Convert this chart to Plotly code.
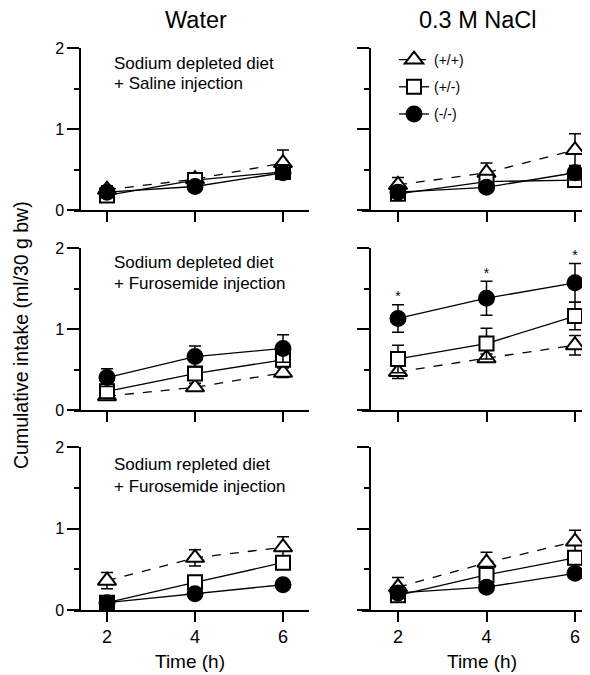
import plotly.graph_objects as go

time = [2, 4, 6]
genotypes = ["(+/+)", "(+/-)", "(-/-)"]
col_titles = ["Water", "0.3 M NaCl"]
row_labels = [
    ["Sodium depleted diet", "+ Saline injection"],
    ["Sodium depleted diet", "+ Furosemide injection"],
    ["Sodium repleted diet", "+ Furosemide injection"],
]
y_title = "Cumulative intake (ml/30 g bw)"
x_title = "Time (h)"

# Row 1: depleted + saline
water_sal_wt = [0.25, 0.38, 0.58]; water_sal_wt_err = [0.05, 0.05, 0.16]
water_sal_het = [0.18, 0.37, 0.47]; water_sal_het_err = [0.04, 0.04, 0.05]
water_sal_ko = [0.22, 0.29, 0.46]; water_sal_ko_err = [0.04, 0.04, 0.05]
nacl_sal_wt = [0.31, 0.46, 0.74]; nacl_sal_wt_err = [0.09, 0.12, 0.20]
nacl_sal_het = [0.20, 0.35, 0.37]; nacl_sal_het_err = [0.04, 0.05, 0.05]
nacl_sal_ko = [0.22, 0.28, 0.46]; nacl_sal_ko_err = [0.04, 0.05, 0.09]
# Row 2: depleted + furosemide
water_fd_wt = [0.17, 0.28, 0.46]; water_fd_wt_err = [0.04, 0.05, 0.06]
water_fd_het = [0.23, 0.45, 0.62]; water_fd_het_err = [0.04, 0.06, 0.06]
water_fd_ko = [0.40, 0.66, 0.76]; water_fd_ko_err = [0.11, 0.13, 0.17]
nacl_fd_wt = [0.47, 0.64, 0.80]; nacl_fd_wt_err = [0.08, 0.05, 0.12]
nacl_fd_het = [0.63, 0.82, 1.16]; nacl_fd_het_err = [0.17, 0.19, 0.17]
nacl_fd_ko = [1.13, 1.38, 1.57]; nacl_fd_ko_err = [0.17, 0.21, 0.24]
# Row 3: repleted + furosemide
water_fr_wt = [0.36, 0.64, 0.77]; water_fr_wt_err = [0.10, 0.10, 0.13]
water_fr_het = [0.09, 0.34, 0.58]; water_fr_het_err = [0.02, 0.04, 0.04]
water_fr_ko = [0.09, 0.20, 0.31]; water_fr_ko_err = [0.02, 0.03, 0.03]
nacl_fr_wt = [0.28, 0.58, 0.84]; nacl_fr_wt_err = [0.12, 0.13, 0.14]
nacl_fr_het = [0.18, 0.43, 0.64]; nacl_fr_het_err = [0.03, 0.04, 0.04]
nacl_fr_ko = [0.21, 0.28, 0.45]; nacl_fr_ko_err = [0.03, 0.03, 0.05]

significant = [True, True, True]  # NaCl, depleted + furosemide, (-/-)

panels = [
    [(water_sal_wt, water_sal_wt_err), (water_sal_het, water_sal_het_err), (water_sal_ko, water_sal_ko_err)],
    [(nacl_sal_wt, nacl_sal_wt_err), (nacl_sal_het, nacl_sal_het_err), (nacl_sal_ko, nacl_sal_ko_err)],
    [(water_fd_wt, water_fd_wt_err), (water_fd_het, water_fd_het_err), (water_fd_ko, water_fd_ko_err)],
    [(nacl_fd_wt, nacl_fd_wt_err), (nacl_fd_het, nacl_fd_het_err), (nacl_fd_ko, nacl_fd_ko_err)],
    [(water_fr_wt, water_fr_wt_err), (water_fr_het, water_fr_het_err), (water_fr_ko, water_fr_ko_err)],
    [(nacl_fr_wt, nacl_fr_wt_err), (nacl_fr_het, nacl_fr_het_err), (nacl_fr_ko, nacl_fr_ko_err)],
]

W, H = 590, 675
OFF = 8  # page body margin


def fx(s):
    return (s - OFF) / W


def fy(s):
    return 1 - (s - OFF) / H


FONT = "Liberation Sans, Arial, sans-serif"

styles = [
    dict(symbol="triangle-up", color="white", size=16, dash="dash"),
    dict(symbol="square", color="white", size=14, dash="solid"),
    dict(symbol="circle", color="black", size=15, dash="solid"),
]

fig = go.Figure()

for p, series in enumerate(panels):
    n = p + 1
    xa = "x" if n == 1 else f"x{n}"
    ya = "y" if n == 1 else f"y{n}"
    for g, (vals, errs) in enumerate(series):
        st = styles[g]
        fig.add_trace(go.Scatter(
            x=time, y=vals, xaxis=xa, yaxis=ya,
            mode="lines+markers", name=genotypes[g],
            legendgroup=genotypes[g], showlegend=(p == 0),
            line=dict(color="black", width=1.3, dash=st["dash"]),
            marker=dict(symbol=st["symbol"], size=st["size"], color=st["color"],
                        line=dict(color="black", width=2)),
            error_y=dict(type="data", array=errs, visible=True, color="black",
                         thickness=1.5, width=6),
            cliponaxis=False,
        ))
    if p == 3:
        ko, ko_err = series[2]
        fig.add_trace(go.Scatter(
            x=[t for t, s in zip(time, significant) if s],
            y=[v + e for v, e, s in zip(ko, ko_err, significant) if s],
            xaxis=xa, yaxis=ya, mode="text", text=["*"] * 3,
            textposition="top center", showlegend=False,
            textfont=dict(size=14, color="black", family=FONT), cliponaxis=False,
        ))

row_px = [(48, 210), (248, 410), (447, 610)]
col_x = [dict(dom=(74, 309), pos=80, rng=(2 - 33 / 44, 6 + 26 / 44)),
         dict(dom=(362, 589), pos=370, rng=(2 - 36 / 44.25, 6 + 14 / 44.25))]

layout = dict(
    template="none",
    width=W, height=H, margin=dict(l=0, r=0, t=0, b=0, autoexpand=False),
    paper_bgcolor="white", plot_bgcolor="white",
    font=dict(family=FONT, color="black"),
    legend=dict(x=fx(394), y=fy(44), xanchor="left", yanchor="top",
                bgcolor="rgba(0,0,0,0)", font=dict(size=14), tracegroupgap=6,
                itemsizing="trace"),
    annotations=[], showlegend=True,
)

for r in range(3):
    for c in range(2):
        n = r * 2 + c + 1
        sfx = "" if n == 1 else str(n)
        top, bot = row_px[r]
        cx = col_x[c]
        layout[f"xaxis{sfx}"] = dict(
            domain=[fx(cx["dom"][0]), fx(cx["dom"][1])], range=list(cx["rng"]),
            anchor=f"y{sfx}", showline=True, linecolor="black", linewidth=1.5,
            ticks="outside", ticklen=10, tickwidth=1.5, tickcolor="black",
            tickvals=time, showticklabels=(r == 2), tickfont=dict(size=18),
            showgrid=False, zeroline=False, fixedrange=True, automargin=False,
        )
        layout[f"yaxis{sfx}"] = dict(
            domain=[fy(bot), fy(top)], range=[0, 2],
            anchor="free", position=fx(cx["pos"]),
            showline=True, linecolor="black", linewidth=1.5,
            ticks="outside", ticklen=12, tickwidth=1.5, tickcolor="black",
            tickvals=[0, 1, 2], showticklabels=(c == 0), tickfont=dict(size=16),
            minor=dict(tickvals=[0.5, 1.5], ticks="outside", ticklen=5,
                       tickwidth=1.5, tickcolor="black"),
            showgrid=False, zeroline=False, fixedrange=True, automargin=False,
        )

ann = layout["annotations"]
title_x = [196, 478]
for c, t in enumerate(col_titles):
    ann.append(dict(text=t, x=fx(title_x[c]), y=fy(20), xref="paper", yref="paper",
                    showarrow=False, font=dict(size=23.5), xanchor="center", yanchor="middle"))
label_y = [(63, 83), (262, 283), (464, 486)]
for r in range(3):
    for i in range(2):
        ann.append(dict(text=row_labels[r][i], x=fx(112), y=fy(label_y[r][i]),
                        xref="paper", yref="paper", showarrow=False,
                        font=dict(size=17), xanchor="left", yanchor="middle"))
ann.append(dict(text=y_title, x=fx(21), y=fy(335), xref="paper", yref="paper",
                showarrow=False, textangle=-90, font=dict(size=19.5),
                xanchor="center", yanchor="middle"))
for c, xr in enumerate(["x5", "x6"]):
    ann.append(dict(text=x_title, x=4, xref=xr, xshift=-5, y=fy(661), yref="paper",
                    showarrow=False, font=dict(size=19),
                    xanchor="center", yanchor="middle"))

fig.update_layout(**layout)
fig.write_html("out.html")
